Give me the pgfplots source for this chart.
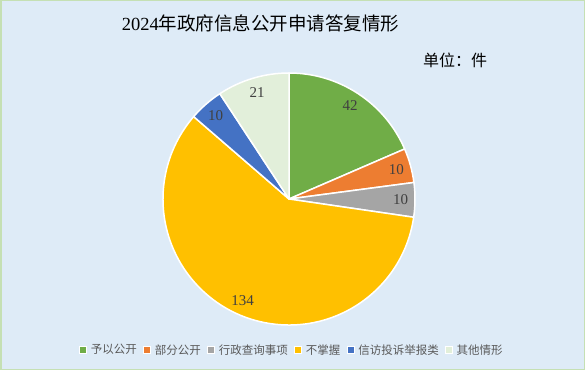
\documentclass[border=0pt]{standalone}
\usepackage{fontspec}
\setmainfont{Liberation Serif}
\newfontfamily\cjk{Noto Sans CJK SC}
\usepackage{pgfplots}
\usepackage{pgfplotstable}
\pgfplotsset{compat=1.18}
\definecolor{bg}{HTML}{DEEBF7}
\definecolor{frame}{HTML}{C5E0B4}
\definecolor{cA}{HTML}{70AD47}
\definecolor{cB}{HTML}{ED7D31}
\definecolor{cC}{HTML}{A5A5A5}
\definecolor{cD}{HTML}{FFC000}
\definecolor{cE}{HTML}{4472C4}
\definecolor{cF}{HTML}{E2EFDA}
\definecolor{txt}{HTML}{404040}
\definecolor{legtxt}{HTML}{595959}

\pgfplotstableread{
label value color
予以公开 42 cA
部分公开 10 cB
行政查询事项 10 cC
不掌握 134 cD
信访投诉举报类 10 cE
其他情形 21 cF
}\piedata

\newcommand{\lblfont}{\fontsize{15bp}{15bp}\selectfont\color{txt}}

\begin{document}
\begin{tikzpicture}[x=1bp,y=1bp]
\useasboundingbox (0,0) rectangle (585,370);
\fill[bg] (0,0) rectangle (585,370);
\draw[frame, line width=1.5bp] (0.75,0.75) rectangle (584.25,369.25);
\node[anchor=center] at (260.5,347) {\fontsize{18.5bp}{18.5bp}\selectfont 2024\cjk 年政府信息公开申请答复情形};
\node[anchor=center] at (455,310) {\cjk\fontsize{16bp}{16bp}\selectfont 单位：件};
\begin{axis}[
  at={(289bp,171bp)}, anchor=center,
  x=126bp, y=126bp,
  xmin=-1, xmax=1, ymin=-1, ymax=1,
  hide axis, clip=false,
  legend columns=6,
  legend style={at={(0.512,-0.099)}, anchor=center, draw=none, fill=none,
    font=\cjk\fontsize{11.5bp}{11.5bp}\selectfont\color{legtxt},
    /tikz/every odd column/.append style={column sep=1.5bp},
    /tikz/every even column/.append style={column sep=4.5bp},
    inner sep=0pt, row sep=0pt},
  legend image code/.code={\draw[#1, draw=white, line width=1bp] (0bp,-3.5bp) rectangle (7bp,3.5bp);},
]
\pgfplotstablegetrowsof{\piedata}
\pgfmathtruncatemacro{\nrows}{\pgfplotsretval-1}
\def\total{0}
\pgfplotsforeachungrouped \i in {0,...,\nrows}{%
  \pgfplotstablegetelem{\i}{value}\of\piedata
  \pgfmathsetmacro{\total}{\total+\pgfplotsretval}%
}
\def\cum{0}
\pgfplotsforeachungrouped \i in {0,...,\nrows}{%
  \pgfplotstablegetelem{\i}{value}\of\piedata \let\v\pgfplotsretval
  \pgfplotstablegetelem{\i}{color}\of\piedata \let\c\pgfplotsretval
  \pgfplotstablegetelem{\i}{label}\of\piedata \let\l\pgfplotsretval
  \pgfmathsetmacro{\a}{90-\cum/\total*360}%
  \pgfmathsetmacro{\b}{90-(\cum+\v)/\total*360}%
  \pgfmathsetmacro{\m}{(\a+\b)/2}%
  \pgfmathsetmacro{\ca}{cos(\a)}%
  \pgfmathsetmacro{\sa}{sin(\a)}%
  \pgfmathsetmacro{\cm}{0.885*cos(\m)}%
  \pgfmathsetmacro{\sm}{0.885*sin(\m)}%
  \edef\temp{%
    \noexpand\fill[\c, draw=white, line width=1.5bp, line join=round] (axis cs:0,0) -- (axis cs:\ca,\sa) arc[start angle=\a, end angle=\b, radius=126bp] -- cycle;
    \noexpand\node[font=\noexpand\lblfont] at (axis cs:\cm,\sm) {\v};
    \noexpand\addlegendimage{fill=\c}
    \noexpand\addlegendentry{\l}
  }%
  \temp
  \pgfmathsetmacro{\cum}{\cum+\v}%
}
\end{axis}
\end{tikzpicture}
\end{document}
